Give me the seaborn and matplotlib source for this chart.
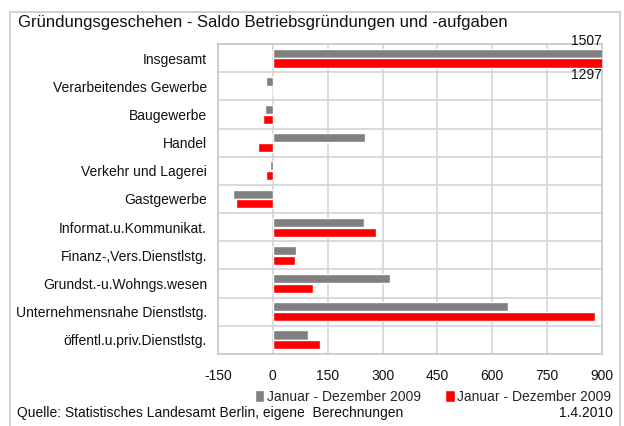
import matplotlib
matplotlib.use("Agg")
import matplotlib.pyplot as plt
from matplotlib.patches import Rectangle, Patch
import pandas as pd
import seaborn as sns

categories = [
    "Insgesamt",
    "Verarbeitendes Gewerbe",
    "Baugewerbe",
    "Handel",
    "Verkehr und Lagerei",
    "Gastgewerbe",
    "Informat.u.Kommunikat.",
    "Finanz-,Vers.Dienstlstg.",
    "Grundst.-u.Wohngs.wesen",
    "Unternehmensnahe Dienstlstg.",
    "öffentl.u.priv.Dienstlstg.",
]
series_a = [1507, -18, -21, 251, -7, -109, 248, 64, 320, 642, 96]
series_b = [1297, 4, -27, -40, -18, -101, 281, 61, 111, 881, 130]
series_labels = ["Januar - Dezember 2009", "Januar - Dezember 2009"]
x_ticks = [-150, 0, 150, 300, 450, 600, 750, 900]

sns.set_theme(style="white")
plt.rcParams["font.family"] = ["Liberation Sans", "DejaVu Sans"]

df = pd.DataFrame({
    "Kategorie": categories * 2,
    "Saldo": series_a + series_b,
    "Reihe": ["a"] * len(categories) + ["b"] * len(categories),
})

fs = 10
txt_col = "#111111"

fig = plt.figure(figsize=(6.24, 4.26), dpi=100)
ax = fig.add_axes([218 / 624, 1 - 354 / 426, (602 - 218) / 624, (354 - 44) / 426])

palette = {"a": "#808080", "b": "#ff0000"}
sns.barplot(data=df, y="Kategorie", x="Saldo", hue="Reihe", order=categories,
            hue_order=["a", "b"], palette=palette, orient="h", width=0.7,
            gap=0.08, saturation=1, legend=False, ax=ax, zorder=3)

ax.set_xlim(x_ticks[0], x_ticks[-1])
ax.set_ylim(len(categories) - 0.5, -0.5)
ax.set_xticks(x_ticks)
ax.set_xticklabels([str(t) for t in x_ticks], fontsize=fs, color=txt_col)
ax.tick_params(axis="x", length=0, pad=11)
ax.tick_params(axis="y", length=0, pad=8, labelsize=fs, labelcolor=txt_col)
ax.set_xlabel("")
ax.set_ylabel("")

grid_col = "#d4d4d4"
for t in x_ticks:
    ax.axvline(t, color=grid_col, lw=1.2, zorder=1)
for i in range(len(categories) + 1):
    ax.axhline(i - 0.5, color=grid_col, lw=1.2, zorder=1)
for s in ax.spines.values():
    s.set_color("#c8c8c8")
    s.set_linewidth(1.2)

# value labels for the bars exceeding the axis range
ax.text(x_ticks[-1], -0.36, f"{series_a[0]}", ha="right", va="bottom",
        fontsize=fs, color=txt_col, clip_on=False, zorder=5)
ax.text(x_ticks[-1], 0.36, f"{series_b[0]}", ha="right", va="top",
        fontsize=fs, color=txt_col, clip_on=False, zorder=5)

# outer frame
fig.patches.append(Rectangle((10 / 624, -0.05), 610 / 624, 1.05 - 12 / 426,
                             transform=fig.transFigure, fill=False,
                             edgecolor="#c8c8c8", lw=1.2))

fig.text(18 / 624, 1 - 23 / 426,
         "Gründungsgeschehen - Saldo Betriebsgründungen und -aufgaben",
         ha="left", va="center", fontsize=12, color=txt_col)

handles = [Patch(facecolor="#808080"), Patch(facecolor="#ff0000")]
fig.legend(handles, series_labels, ncol=2, frameon=False,
           loc="center", bbox_to_anchor=(433 / 624, 1 - 397 / 426),
           fontsize=fs, handlelength=0.7, handleheight=1.0,
           handletextpad=0.2, columnspacing=1.7, borderaxespad=0,
           borderpad=0)

fig.text(17 / 624, 1 - 413 / 426,
         "Quelle: Statistisches Landesamt Berlin, eigene  Berechnungen",
         ha="left", va="center", fontsize=fs, color=txt_col)
fig.text(613 / 624, 1 - 413 / 426, "1.4.2010",
         ha="right", va="center", fontsize=fs, color=txt_col)

fig.savefig("out.png", dpi=100)
